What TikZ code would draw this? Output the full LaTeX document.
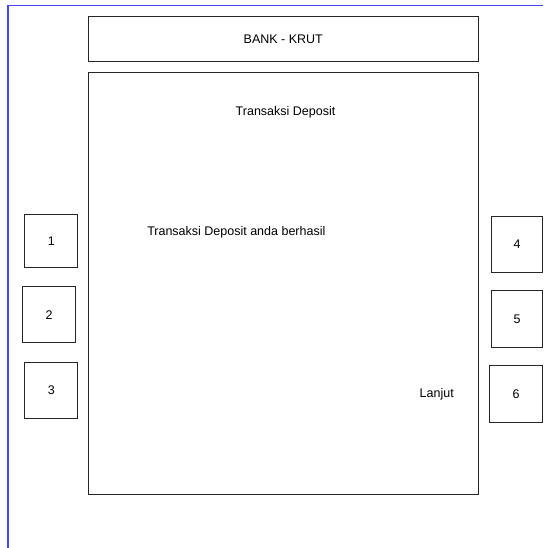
\documentclass[tikz,border=0pt]{standalone}
\usepackage{fontspec}
\setmainfont{Liberation Sans}
\begin{document}
\begin{tikzpicture}[x=1pt,y=-1pt,
  panel/.style={draw=black!85, line width=1pt, inner sep=0pt, font=\fontsize{12.5}{14}\selectfont},
  key/.style={panel},
  label/.style={inner sep=0pt, font=\fontsize{12.5}{14}\selectfont}]
\useasboundingbox (0,0) rectangle (543,548);
% screen frame
\draw[draw={rgb,255:red,70;green,70;blue,255}, line width=1.3pt] (8,548) -- (8,5.5) -- (543,5.5);
% header
\node[panel, minimum width=390pt, minimum height=45.5pt] (header) at (283.3,39) {BANK - KRUT};
% display
\node[panel, minimum width=390.4pt, minimum height=421pt] (screen) at (283.5,283.5) {};
\node[label] (title) at (285.5,112) {Transaksi Deposit};
\node[label] (msg) at (236.3,232) {Transaksi Deposit anda berhasil};
\node[label] (next) at (436.7,394) {Lanjut};
% side keys, left
\node[key, minimum width=52.7pt, minimum height=52.7pt] (k1) at (51.3,241.3) {1};
\node[key, minimum width=53pt, minimum height=56pt] (k2) at (49.2,314.7) {2};
\node[key, minimum width=52.7pt, minimum height=56pt] (k3) at (51.3,390.3) {3};
% side keys, right
\node[key, minimum width=51.5pt, minimum height=56.3pt] (k4) at (517,244.2) {4};
\node[key, minimum width=51.5pt, minimum height=56.6pt] (k5) at (517,319) {5};
\node[key, minimum width=53.4pt, minimum height=57pt] (k6) at (516,393.8) {6};
\end{tikzpicture}
\end{document}
